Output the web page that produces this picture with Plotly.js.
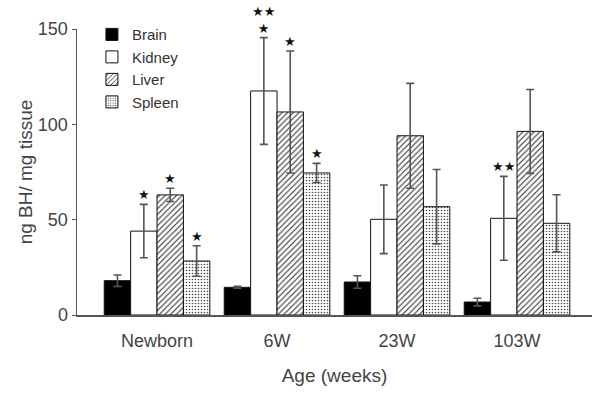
<!DOCTYPE html>
<html><head><meta charset="utf-8">
<script src="https://cdn.plot.ly/plotly-3.0.1.min.js"></script>
<style>html,body{margin:0;padding:0;background:#fff}#chart{width:592px;height:393px}</style>
</head><body><div id="chart"></div>
<script>
var categories = ['Newborn', '6W', '23W', '103W'];
var seriesNames = ['Brain', 'Kidney', 'Liver', 'Spleen'];
var brain = [18, 14.5, 17.3, 6.8];
var brainErr = [3, 0.5, 3.3, 2];
var kidney = [44, 117.5, 50.2, 50.7];
var kidneyErr = [14, 28, 18, 22];
var liver = [63, 106.5, 94, 96.3];
var liverErr = [3.5, 32, 27.5, 22];
var spleen = [28.3, 74.5, 56.8, 48.1];
var spleenErr = [8, 5, 19.5, 15];
var yTicks = [0, 50, 100, 150];
// significance marks: [category index, series index, label]
var stars = [
  [0, 1, '★'], [0, 2, '★'], [0, 3, '★'],
  [1, 1, '★★<br>★'], [1, 2, '★'], [1, 3, '★'],
  [3, 1, '★★']
];

var values = [brain, kidney, liver, spleen];
var errs = [brainErr, kidneyErr, liverErr, spleenErr];
var fills = [
  {color: '#000', pattern: {shape: ''}},
  {color: '#fff', pattern: {shape: ''}},
  {color: '#fff', pattern: {shape: '/', fgcolor: '#333', bgcolor: '#fff', size: 4, solidity: 0.28}},
  {color: '#fff', pattern: {shape: '.', fgcolor: '#444', bgcolor: '#fff', size: 3, solidity: 0.22}}
];
var font = 'Liberation Sans, Arial, sans-serif';
var traces = values.map(function (v, i) {
  return {
    type: 'bar', name: seriesNames[i], x: categories, y: v,
    marker: {color: fills[i].color, pattern: fills[i].pattern, line: {color: '#111', width: 1}},
    error_y: {type: 'data', array: errs[i], visible: true, color: '#555', thickness: 1.6, width: 4}
  };
});
var bargap = 0.12;
var w = (1 - bargap) / 4;
var annotations = stars.map(function (s) {
  var c = s[0], k = s[1];
  return {
    xref: 'x', yref: 'y', x: c + (k - 1.5) * w, y: values[k][c] + errs[k][c],
    text: s[2], showarrow: false, yanchor: 'bottom', yshift: 0,
    font: {family: 'DejaVu Sans', size: 13, color: '#111'}
  };
});
var layout = {
  width: 592, height: 393,
  margin: {l: 77, r: 0, t: 29, b: 78},
  paper_bgcolor: '#fff', plot_bgcolor: '#fff',
  barmode: 'group', bargap: bargap, bargroupgap: 0,
  showlegend: true,
  legend: {x: 0.029, y: 1.038, xanchor: 'left', yanchor: 'top', bgcolor: 'rgba(0,0,0,0)',
           font: {family: font, size: 15, color: '#333'}, tracegroupgap: 0},
  xaxis: {type: 'category', range: [-0.667, 3.625], showline: true, linecolor: '#555', linewidth: 1.5,
          ticks: '', showgrid: false, zeroline: false, ticklabelstandoff: 9,
          tickfont: {family: font, size: 18, color: '#444'},
          title: {text: 'Age (weeks)', font: {family: font, size: 19, color: '#444'}, standoff: 18}},
  yaxis: {range: [0, 150], tickvals: yTicks, showline: true, linecolor: '#555', linewidth: 1.5,
          ticks: 'outside', ticklen: 4, tickcolor: '#555', showgrid: false, zeroline: false,
          tickfont: {family: font, size: 18, color: '#444'},
          title: {text: 'ng BH/ mg tissue', font: {family: font, size: 19, color: '#444'}, standoff: 0}},
  annotations: annotations
};
Plotly.newPlot('chart', traces, layout, {displayModeBar: false, staticPlot: true});
</script></body></html>
